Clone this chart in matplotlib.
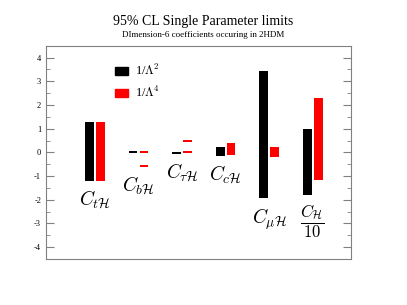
import numpy as np
import matplotlib.pyplot as plt
import matplotlib as mpl
from matplotlib.patches import Patch
from matplotlib.ticker import MultipleLocator

mpl.rcParams['font.family'] = 'Liberation Serif'
mpl.rcParams['mathtext.fontset'] = 'cm'

# coefficient labels
labels = [r'$C_{t\mathcal{H}}$', r'$C_{b\mathcal{H}}$', r'$C_{\tau\mathcal{H}}$',
          r'$C_{c\mathcal{H}}$', r'$C_{\mu\mathcal{H}}$', r'$\dfrac{C_{\mathcal{H}}}{10}$']
label_sizes = [14, 14, 14, 14, 14, 12]

# 1/Lambda^2 limits (low, high)
lam2_lo = [-1.23, -0.04, -0.06, -0.14, -1.94, -1.79]
lam2_hi = [1.27, 0.04, 0.03, 0.24, 3.43, 1.00]

# 1/Lambda^4 limits, some coefficients have two allowed intervals
lam4_ints = [
    [(-1.20, 1.27)],
    [(-0.04, 0.04), (-0.63, -0.54)],
    [(-0.04, 0.04), (0.43, 0.52)],
    [(-0.11, 0.41)],
    [(-0.19, 0.21)],
    [(-1.17, 2.28)],
]

x = np.arange(1, len(labels) + 1)
width = 0.2

fig = plt.figure(figsize=(4.07, 3.05), dpi=100)
ax = fig.add_axes([0.113, 0.151, 0.749, 0.699])

# black bars
ax.bar(x, np.array(lam2_hi) - np.array(lam2_lo), bottom=lam2_lo, width=width,
       color='black', align='center')

# red bars
for i, ints in enumerate(lam4_ints):
    for lo, hi in ints:
        ax.bar(x[i] + 0.25, hi - lo, bottom=lo, width=width, color='red', align='center')

# coefficient names under the bars
for i, lab in enumerate(labels):
    lowest = min(lam2_lo[i], min(lo for lo, hi in lam4_ints[i]))
    ax.text(x[i] + 0.125, lowest - 0.33, lab, ha='center', va='top', fontsize=label_sizes[i])

ax.set_xlim(0, 7)
ax.set_ylim(-4.5, 4.5)
ax.set_xticks([])
ax.yaxis.set_major_locator(MultipleLocator(1))
ax.yaxis.set_minor_locator(MultipleLocator(0.5))
ax.set_yticklabels([str(int(v)) for v in ax.get_yticks()])
ax.tick_params(axis='y', which='both', direction='in', left=True, right=True,
               color='grey', labelsize=6)
ax.tick_params(axis='y', which='major', length=6)
ax.tick_params(axis='y', which='minor', length=3)
for sp in ax.spines.values():
    sp.set_color('grey')

handles = [Patch(color='black', label=r'1/$\Lambda^2$'),
           Patch(color='red', label=r'1/$\Lambda^4$')]
leg = ax.legend(handles=handles, loc='upper left', bbox_to_anchor=(0.19, 0.97),
                frameon=False, fontsize=9, handlelength=1.05, handleheight=0.7,
                handletextpad=0.5, labelspacing=0.55)

fig.text(0.5, 0.931, '95% CL Single Parameter limits', ha='center', va='center', fontsize=10)
fig.text(0.5, 0.886, 'DImension-6 coefficients occuring in 2HDM', ha='center', va='center',
         fontsize=6.5)

plt.savefig('out.png', dpi=100)
